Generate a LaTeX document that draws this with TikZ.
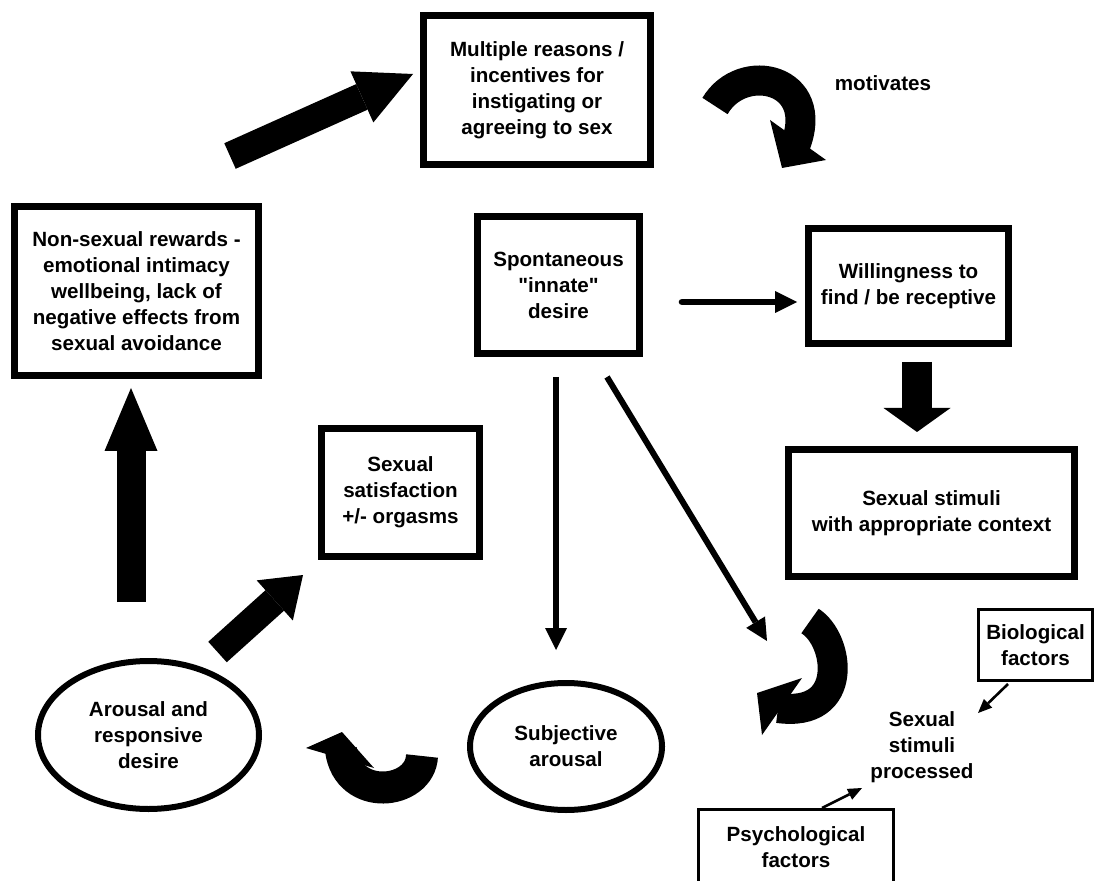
\documentclass[tikz,border=0pt]{standalone}
\usepackage{fontspec}
\setmainfont{Liberation Sans}[Ligatures=TeXOff]
\usetikzlibrary{arrows.meta,shapes.geometric}
\newcommand{\dfont}{\fontsize{10.3}{13}\selectfont\bfseries}
\begin{document}
\begin{tikzpicture}[x=0.5pt,y=-0.5pt,
  box/.style={draw, rectangle, line width=3.5pt, inner sep=0pt, align=center, font=\dfont},
  fbox/.style={draw, rectangle, line width=1.5pt, inner sep=0pt, align=center, font=\dfont},
  oval/.style={draw, ellipse, line width=3pt, inner sep=0pt, align=center, font=\dfont},
  lbl/.style={align=center, font=\dfont, inner sep=0pt},
  bigarrow/.style n args={3}{line width=#1, -{Triangle[width=#2,length=#3,line width=0pt]}},
  thinarrow/.style={line width=3pt, -{Triangle[width=11pt,length=11pt,line width=0pt]}},
  tinyarrow/.style={line width=1.3pt, -{Triangle[width=6pt,length=7pt,line width=0pt]}},
  band/.style={line width=15pt},
]
\path[use as bounding box] (0,0) rectangle (1096,881);
\clip (0,0) rectangle (1096,881);

% boxes
\node[box, minimum width=113.5pt, minimum height=74.5pt] (reasons) at (537,90)
  {Multiple reasons /\\incentives for\\instigating or\\agreeing to sex};
\node[box, minimum width=122pt, minimum height=84.5pt] (nonsex) at (136.5,291)
  {Non-sexual rewards -\\emotional intimacy\\wellbeing, lack of\\negative effects from\\sexual avoidance};
\node[box, minimum width=81pt, minimum height=68.5pt] (spont) at (558.5,285)
  {Spontaneous\\"innate"\\desire};
\node[box, minimum width=100pt, minimum height=57.5pt] (will) at (908.5,286)
  {Willingness to\\find / be receptive};
\node[box, minimum width=143pt, minimum height=63.5pt] (stim) at (931.5,513)
  {Sexual stimuli\\with appropriate context};
\node[box, minimum width=79pt, minimum height=64pt] (satis) at (400.5,492.5)
  {Sexual\\satisfaction\\+/- orgasms};
\node[oval, minimum width=110.5pt, minimum height=74pt] (arousal) at (148.5,735)
  {Arousal and\\responsive\\desire};
\node[oval, minimum width=96pt, minimum height=63.5pt] (subj) at (566,746.5)
  {Subjective\\arousal};
\node[fbox, minimum width=57pt, minimum height=35.5pt] (bio) at (1035.5,645)
  {Biological\\factors};
\node[fbox, minimum width=97.5pt, minimum height=44.5pt] (psych) at (796,854) {};
\node[lbl] (psychT) at (796,847) {Psychological\\factors};
\node[lbl] (proc) at (922,747) {Sexual\\stimuli\\processed};
\node[lbl] (motiv) at (883,83) {motivates};

% big straight arrows
\coordinate (a1s) at (230,156); \coordinate (a1e) at (413,74);
\draw[bigarrow={14pt}{28pt}{28pt}] (a1s) -- (a1e);
\coordinate (a2s) at (131,602); \coordinate (a2e) at (131,388);
\draw[bigarrow={14.5pt}{26.5pt}{31.5pt}] (a2s) -- (a2e);
\coordinate (a3s) at (217.5,652); \coordinate (a3e) at (303,575);
\draw[bigarrow={13.8pt}{27pt}{19pt}] (a3s) -- (a3e);
\coordinate (a4s) at (917,362); \coordinate (a4e) at (917,432);
\draw[bigarrow={15pt}{33.5pt}{12pt}] (a4s) -- (a4e);

% thin arrows
\coordinate (h1) at (682,302); \coordinate (h2) at (797,302);
\draw[thinarrow, line width=3.3pt, line cap=round] (h1) -- (h2);
\coordinate (v1) at (556,377); \coordinate (v2) at (556,650);
\draw[thinarrow] (v1) -- (v2);
\coordinate (d1) at (607,377); \coordinate (d2) at (767,641);
\draw[thinarrow] (d1) -- (d2);
\coordinate (b1) at (1008,684); \coordinate (b2) at (978,713);
\draw[tinyarrow] (b1) -- (b2);
\coordinate (p1) at (822,808); \coordinate (p2) at (862,788);
\draw[tinyarrow] (p1) -- (p2);

% curved arrows
\draw[band] (715,106) .. controls (742,60) and (822,78) .. (795,146);
\fill (770,120) -- (826,160) -- (782,168) -- cycle;

\draw[band, line width=16pt] (422,756) .. controls (420,795) and (348,803) .. (341,750);
\fill (306,748) -- (342,732) -- (374,768) -- cycle;

\draw[band] (810,621) .. controls (840,640) and (850,718) .. (778,708);
\fill (802,678) -- (757,693) -- (762,735) -- cycle;
\end{tikzpicture}
\end{document}
